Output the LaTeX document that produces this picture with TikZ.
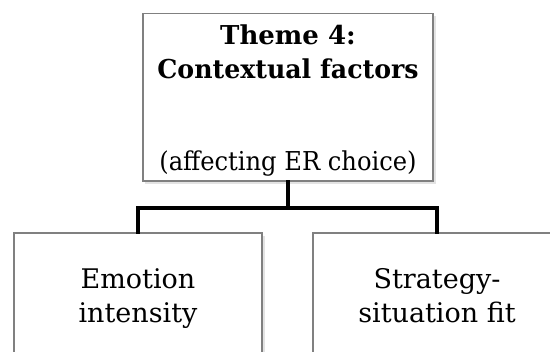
\documentclass[tikz,border=0pt]{standalone}
\usepackage{fontspec}
\setmainfont{DejaVu Serif}
\begin{document}
\begin{tikzpicture}[x=1pt,y=-1pt,
  box/.style={draw=gray!75!black!80, line width=1.3pt, fill=white, rectangle, inner sep=0pt},
  txt/.style={font=\fontsize{26}{32}\selectfont, anchor=base, inner sep=0pt, align=center},
  leaftxt/.style={txt, font=\fontsize{27}{33}\selectfont},
  link/.style={line width=4pt, line cap=rect}
]
\useasboundingbox (0,0) rectangle (550,352);
\clip (0,0) rectangle (550,352);
% soft shadows behind the boxes
\fill[gray!22] (145,16) rectangle (436,184);
\fill[gray!22] (16,236) rectangle (265,420);
\fill[gray!22] (315,236) rectangle (564,420);
% boxes
\node[box, minimum width=290pt, minimum height=167.5pt] (top) at (288,97.25) {};
\node[box, minimum width=248pt, minimum height=185pt] (left) at (138,325.5) {};
\node[box, minimum width=248pt, minimum height=185pt] (right) at (437,325.5) {};
% texts
\node[txt] (t1) at (288,45) {\bfseries Theme 4:};
\node[txt] (t2) at (288,79) {\bfseries\scalebox{0.97}[1]{Contextual factors}};
\node[txt] (t3) at (288,171) {\scalebox{0.93}[1]{(affecting ER choice)}};
\node[leaftxt] (l1) at (138,289) {Emotion};
\node[leaftxt] (l2) at (138,323) {intensity};
\node[leaftxt] (r1) at (437,289) {Strategy-};
\node[leaftxt] (r2) at (437,323) {situation fit};
% connectors
\coordinate (fork) at (288,208);
\draw[link] (top.south) -- (fork);
\draw[link] (left.north) |- (fork) -| (right.north);
\end{tikzpicture}
\end{document}
